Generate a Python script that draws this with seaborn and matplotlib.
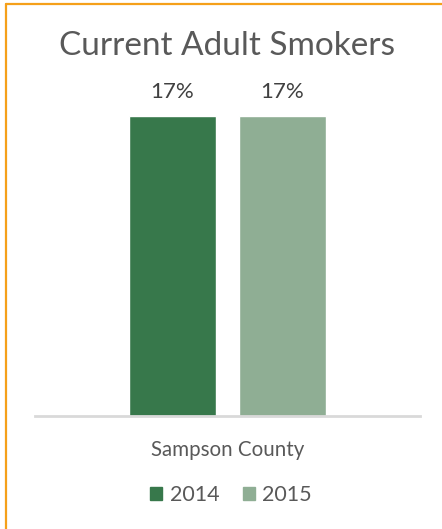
import matplotlib
matplotlib.use("Agg")
import matplotlib.pyplot as plt
from matplotlib.lines import Line2D
import seaborn as sns
import pandas as pd

# Data
regions = ["Sampson County"]
years = ["2014", "2015"]
smokers_2014 = [17]
smokers_2015 = [17]
palette = ["#37784b", "#8fae94"]

df = pd.DataFrame({
    "region": regions * 2,
    "year": [years[0]] * len(regions) + [years[1]] * len(regions),
    "value": smokers_2014 + smokers_2015,
})

sns.set_theme(style="white")
plt.rcParams["font.family"] = ["Lato", "DejaVu Sans"]
text_color = "#595959"

W, H = 442, 529
fig = plt.figure(figsize=(W / 100, H / 100), dpi=100)
fig.patch.set_facecolor("white")

# axes: x 35..420 px, baseline at y=416 px, top at y=80 px
ax_left, ax_right = 35, 420
ax_bottom, ax_top = 416, 80
ax = fig.add_axes([ax_left / W, (H - ax_bottom) / H,
                   (ax_right - ax_left) / W, (ax_bottom - ax_top) / H])

sns.barplot(data=df, x="region", y="value", hue="year", palette=palette,
            width=0.571, gap=0.209, ax=ax, legend=False, saturation=1)

ax.set_xlim(-0.5, 0.5)
ax.set_ylim(0, 17 * (ax_bottom - ax_top) / 300)
for side in ["top", "right", "left"]:
    ax.spines[side].set_visible(False)
ax.spines["bottom"].set_color("#d9d9d9")
ax.spines["bottom"].set_linewidth(2)
ax.set_yticks([])
ax.set_xlabel("")
ax.set_ylabel("")
ax.tick_params(axis="x", length=0, pad=17, labelsize=14.8, labelcolor=text_color)

# value labels
for container in ax.containers:
    ax.bar_label(container, labels=[f"{v:.0f}%" for v in container.datavalues],
                 padding=10, fontsize=16, color="#404040")

# title
fig.text(227.5 / W, 1 - 46 / H, "Current Adult Smokers", ha="center", va="center",
         fontsize=24, color=text_color)

# legend
handles = [plt.Rectangle((0, 0), 1, 1, color=c) for c in palette]
fig.legend(handles, years, loc="center", bbox_to_anchor=(231 / W, 1 - 495 / H),
           ncol=2, frameon=False, fontsize=15.5, labelcolor=text_color,
           handlelength=0.55, handleheight=0.55, handletextpad=0.35,
           columnspacing=1.1)

# orange frame lines (top and left)
orange = "#f5a01a"
fig.add_artist(Line2D([6 / W, 1], [1 - 4 / H, 1 - 4 / H], color=orange, lw=1.6,
                      transform=fig.transFigure))
fig.add_artist(Line2D([6 / W, 6 / W], [0, 1 - 4 / H], color=orange, lw=1.6,
                      transform=fig.transFigure))

fig.savefig("out.png", dpi=100)
